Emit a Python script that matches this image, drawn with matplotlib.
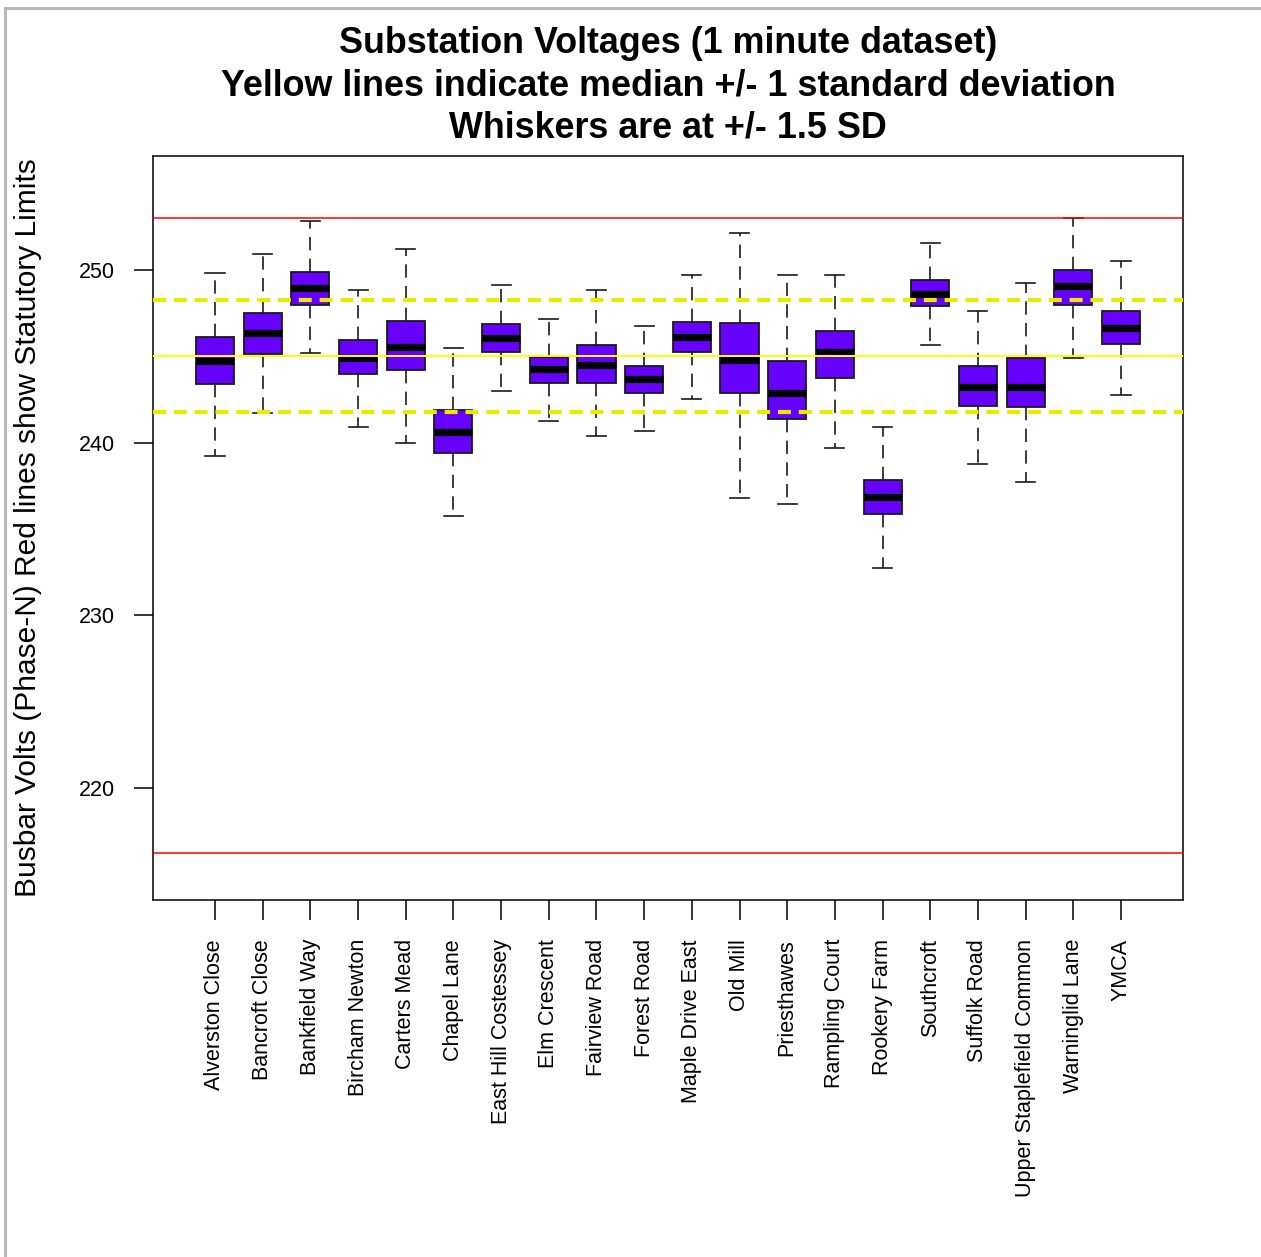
import matplotlib.pyplot as plt
from matplotlib.lines import Line2D

# substation names and five-number summaries (volts)
stations = ['Alverston Close', 'Bancroft Close', 'Bankfield Way', 'Bircham Newton',
            'Carters Mead', 'Chapel Lane', 'East Hill Costessey', 'Elm Crescent',
            'Fairview Road', 'Forest Road', 'Maple Drive East', 'Old Mill',
            'Priesthawes', 'Rampling Court', 'Rookery Farm', 'Southcroft',
            'Suffolk Road', 'Upper Staplefield Common', 'Warninglid Lane', 'YMCA']
whisker_low = [239.22, 241.70, 245.17, 240.92, 239.99, 235.74, 243.01, 241.23, 240.36, 240.67,
               242.55, 236.79, 236.42, 239.71, 232.71, 245.66, 238.76, 237.71, 244.90, 242.74]
box_low = [243.38, 245.15, 247.99, 243.96, 244.21, 239.42, 245.27, 243.47, 243.47, 242.89,
           245.27, 242.89, 241.39, 243.76, 235.84, 247.90, 242.14, 242.04, 247.99, 245.73]
medians = [244.71, 246.37, 248.94, 244.88, 245.56, 240.61, 246.08, 244.25, 244.52, 243.71,
           246.10, 244.81, 242.89, 245.23, 236.83, 248.61, 243.20, 243.22, 249.10, 246.64]
box_high = [246.12, 247.53, 249.91, 245.93, 247.07, 241.87, 246.87, 244.94, 245.66, 244.44,
            246.97, 246.95, 244.71, 246.49, 237.81, 249.41, 244.44, 244.90, 249.99, 247.63]
whisker_high = [249.81, 250.95, 252.83, 248.86, 251.22, 245.46, 249.14, 247.16, 248.86, 246.78,
                249.70, 252.17, 249.70, 249.70, 240.92, 251.59, 247.63, 249.23, 253.00, 250.55]

overall_median = 245.0
overall_sd = 3.25
upper_limit = 253.0
lower_limit = 216.2

plt.rcParams['font.family'] = 'Liberation Sans'

W, H = 1261, 1257
fig = plt.figure(figsize=(W / 100, H / 100), dpi=100)
ax = fig.add_axes([153 / W, 1 - 900 / H, 1030 / W, 744 / H])

positions = list(range(1, len(stations) + 1))
stats = []
for i in range(len(stations)):
    stats.append(dict(label=stations[i], whislo=whisker_low[i], q1=box_low[i],
                      med=medians[i], q3=box_high[i], whishi=whisker_high[i]))

ax.bxp(stats, positions=positions, widths=0.8, patch_artist=True, showfliers=False,
       boxprops=dict(facecolor='#6600ff', edgecolor='#1a1a1a', linewidth=1.3),
       medianprops=dict(color='black', linewidth=5.2, solid_capstyle='butt'),
       whiskerprops=dict(color='#1a1a1a', linewidth=1.2, linestyle=(0, (8, 5))),
       capprops=dict(color='#1a1a1a', linewidth=1.2))

# statutory limits and median +/- 1 sd
ax.axhline(upper_limit, color='#ff0000', lw=1.1, zorder=4)
ax.axhline(lower_limit, color='#ff0000', lw=1.1, zorder=4)
ax.axhline(overall_median, color='#ffff00', lw=1.4, zorder=4)
ax.axhline(overall_median + overall_sd, color='#eaea00', lw=3, ls=(0, (3.1, 1.9)), zorder=4)
ax.axhline(overall_median - overall_sd, color='#eaea00', lw=3, ls=(0, (3.1, 1.9)), zorder=4)

ax.set_xlim(-0.3, 21.3)
ax.set_ylim(213.48, 256.61)
ax.set_yticks([220, 230, 240, 250])
ax.set_xticks(positions)
ax.set_xticklabels(stations, rotation=90)
ax.tick_params(axis='y', length=13.7, width=1.1, pad=13.7, labelsize=15.5)
ax.tick_params(axis='x', length=14.4, width=1.1, pad=13.7, labelsize=15.5)
for sp in ax.spines.values():
    sp.set_linewidth(1.1)

title_lines = ['Substation Voltages (1 minute dataset)',
               'Yellow lines indicate median +/- 1 standard deviation',
               'Whiskers are at +/- 1.5 SD']
for k, line in enumerate(title_lines):
    fig.text(668 / W, 1 - (53 + 42 * k) / H, line, ha='center', va='baseline',
             fontsize=25.8, fontweight='bold')

fig.text(28 / W, 1 - 528 / H, 'Busbar Volts (Phase-N) Red lines show Statutory Limits',
         rotation=90, ha='center', va='center', fontsize=21.5)

# grey frame around the page
fig.add_artist(Line2D([5 / W, 5 / W], [0, 1 - 8 / H], color='#b8b8b8', lw=2.2,
                      transform=fig.transFigure))
fig.add_artist(Line2D([5 / W, 1], [1 - 8 / H, 1 - 8 / H], color='#b8b8b8', lw=2.2,
                      transform=fig.transFigure))

fig.savefig('out.png', dpi=100)
